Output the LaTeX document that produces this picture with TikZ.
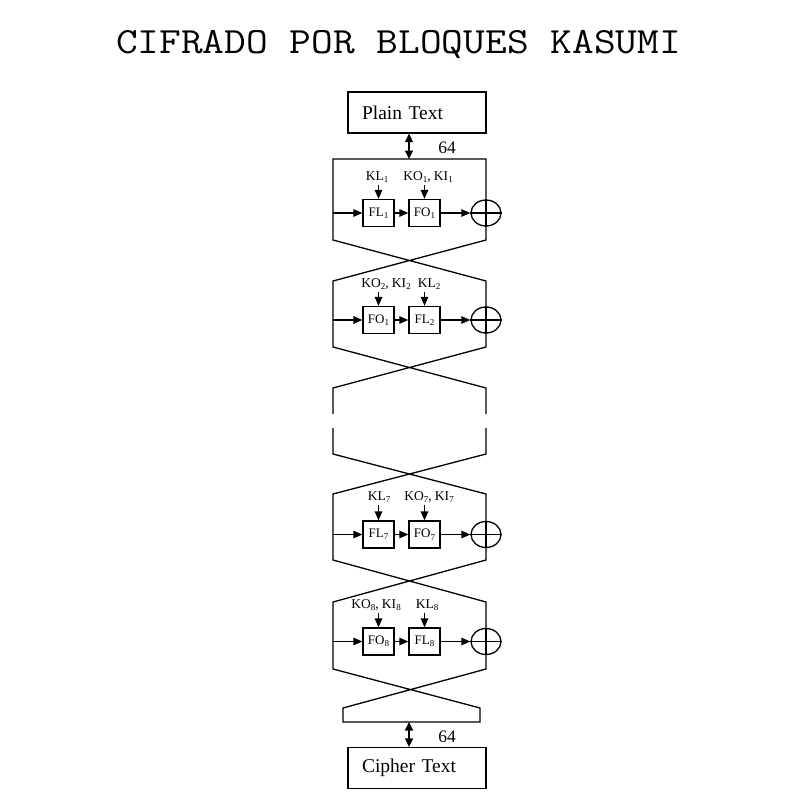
\documentclass[tikz,border=0pt]{standalone}
\usepackage{fontspec}
\setmainfont{Liberation Serif}
\usetikzlibrary{arrows.meta,shapes.geometric}
\newcommand\sbx[1]{\raisebox{-0.4ex}{\fontsize{9}{9}\selectfont #1}}
\begin{document}
\begin{tikzpicture}[x=1pt,y=-1pt, line width=1.3pt,
  arr/.style={-{Triangle[length=9pt,width=7.5pt]}},
  dbl/.style={{Triangle[length=8.5pt,width=8pt]}-{Triangle[length=8.5pt,width=8pt]}},
  tbox/.style={draw, minimum height=41pt, text width=110pt, align=left, inner xsep=14pt, inner ysep=0pt, font=\fontsize{19.5}{20}\selectfont},
  fbox/.style={draw, minimum width=31pt, minimum height=27pt, inner sep=0pt, font=\fontsize{13}{13}\selectfont},
  klab/.style={anchor=base, inner sep=0pt, font=\fontsize{13.5}{13.5}\selectfont},
  xorn/.style={draw, ellipse, minimum width=30pt, minimum height=26pt, inner sep=0pt},
  numlab/.style={anchor=base, inner sep=0pt, font=\fontsize{17.5}{17.5}\selectfont}]
\useasboundingbox (0,0) rectangle (800,800);

% title
\node[anchor=base, inner sep=0pt, font=\ttfamily\fontsize{37}{37}\selectfont] (title) at (398.5,54) {\scalebox{1.14}[1]{CIFRADO POR BLOQUES KASUMI}};

% input / output boxes
\node[tbox] (plain) at (417,112.5) {Plain Text};
\node[tbox] (cipher) at (417,768) {Cipher Text};
\coordinate (t0) at (409,159);
\coordinate (b0) at (409,722);
\draw[dbl] (plain.south -| t0) -- (t0);
\draw[dbl] (b0) -- (cipher.north -| b0);
\node[numlab] (n64a) at (447,153) {64};
\node[numlab] (n64b) at (447,742) {64};

% frame
\draw[line join=miter] (333,414) -- (333,388) -- (486,347) -- (486,281) -- (333,240) -- (333,159) -- (486,159) -- (486,240) -- (333,281) -- (333,347) -- (486,388) -- (486,414);
\draw[line join=miter] (333,428) -- (333,454) -- (486,494) -- (486,560) -- (333,602) -- (333,669) -- (480,708) -- (480,722) -- (343,722) -- (343,708) -- (486,669) -- (486,602) -- (333,560) -- (333,494) -- (486,454) -- (486,428);

% round 1
\node[fbox] (fl1) at (378.5,213) {FL\sbx{1}};
\node[fbox] (fo1) at (424.5,213) {FO\sbx{1}};
\node[xorn] (x1) at (486,213) {};
\draw (x1.west) -- (x1.east) (x1.north) -- (x1.south);
\coordinate (in1) at (333,213);
\draw[arr] (in1) -- (fl1);
\draw[arr] (fl1) -- (fo1);
\draw[arr] (fo1) -- (x1);
\node[klab] (k1a) at (377,180) {KL\sbx{1}};
\node[klab] (k1b) at (428,180) {KO\sbx{1}, KI\sbx{1}};
\coordinate (a1a) at (378.5,185);
\coordinate (a1b) at (424.5,185);
\draw[arr] (a1a) -- (fl1);
\draw[arr] (a1b) -- (fo1);

% round 2
\node[fbox] (fo2) at (378.5,320) {FO\sbx{1}};
\node[fbox] (fl2) at (424.5,320) {FL\sbx{2}};
\node[xorn] (x2) at (486,320) {};
\draw (x2.west) -- (x2.east) (x2.north) -- (x2.south);
\coordinate (in2) at (333,320);
\draw[arr] (in2) -- (fo2);
\draw[arr] (fo2) -- (fl2);
\draw[arr] (fl2) -- (x2);
\node[klab] (k2a) at (386,287) {KO\sbx{2}, KI\sbx{2}};
\node[klab] (k2b) at (429,287) {KL\sbx{2}};
\coordinate (a2a) at (378.5,292);
\coordinate (a2b) at (424.5,292);
\draw[arr] (a2a) -- (fo2);
\draw[arr] (a2b) -- (fl2);

% round 7
\node[fbox] (fl7) at (378.5,534.5) {FL\sbx{7}};
\node[fbox] (fo7) at (424.5,534.5) {FO\sbx{7}};
\node[xorn] (x7) at (486,534.5) {};
\draw (x7.west) -- (x7.east) (x7.north) -- (x7.south);
\coordinate (in7) at (333,534.5);
\draw[arr] (in7) -- (fl7);
\draw[arr] (fl7) -- (fo7);
\draw[arr] (fo7) -- (x7);
\node[klab] (k7a) at (379,500) {KL\sbx{7}};
\node[klab] (k7b) at (429,500) {KO\sbx{7}, KI\sbx{7}};
\coordinate (a7a) at (378.5,505);
\coordinate (a7b) at (424.5,505);
\draw[arr] (a7a) -- (fl7);
\draw[arr] (a7b) -- (fo7);

% round 8
\node[fbox] (fo8) at (378.5,641.5) {FO\sbx{8}};
\node[fbox] (fl8) at (424.5,641.5) {FL\sbx{8}};
\node[xorn] (x8) at (486,641.5) {};
\draw (x8.west) -- (x8.east) (x8.north) -- (x8.south);
\coordinate (in8) at (333,641.5);
\draw[arr] (in8) -- (fo8);
\draw[arr] (fo8) -- (fl8);
\draw[arr] (fl8) -- (x8);
\node[klab] (k8a) at (376,608) {KO\sbx{8}, KI\sbx{8}};
\node[klab] (k8b) at (427,608) {KL\sbx{8}};
\coordinate (a8a) at (378.5,613);
\coordinate (a8b) at (424.5,613);
\draw[arr] (a8a) -- (fo8);
\draw[arr] (a8b) -- (fl8);
\end{tikzpicture}
\end{document}
